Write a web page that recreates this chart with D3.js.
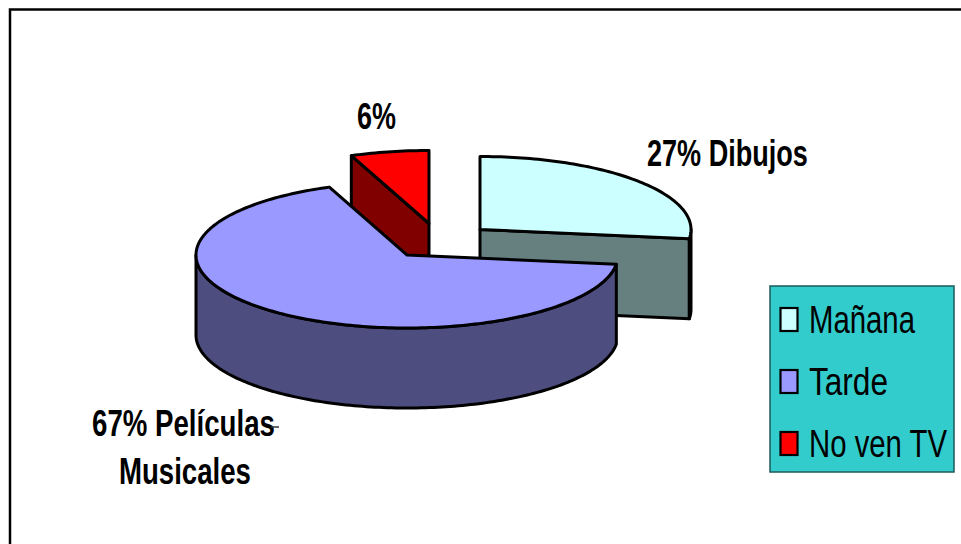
<!DOCTYPE html>
<html lang="es">
<head>
<meta charset="utf-8">
<title>Preferencias TV</title>
<script src="https://cdnjs.cloudflare.com/ajax/libs/d3/7.8.5/d3.min.js"></script>
<style>
  html, body { margin: 0; padding: 0; background: #fff; overflow: hidden; }
  svg { display: block; }
  text { font-family: "Liberation Sans", Arial, sans-serif; fill: #000; }
  .lbl { font-weight: bold; font-size: 37px; }
  .leg { font-size: 38px; }
</style>
</head>
<body>
<svg id="chart" width="961" height="544"></svg>
<script>
var categories = ['Mañana', 'Tarde', 'No ven TV'];
var values = [27, 67, 6];
var colors = ['#CCFFFF', '#9999FF', '#FF0000'];
var wallColors = ['#668080', '#4D4D80', '#800000'];

var rx = 211, ry = 73, depth = 80;
// apex of each slice once pulled out of the pie
var apex = [[480, 229.5], [407, 255], [429, 223.5]];

var svg = d3.select('#chart');

// frame
svg.append('path')
    .attr('d', 'M10,544V9.5H961')
    .attr('fill', 'none')
    .attr('stroke', '#000')
    .attr('stroke-width', 2.5);

var arcs = d3.pie().sort(null)(values);
var line = d3.line();

function rim(i, a, dy) {
    return [apex[i][0] + rx * Math.sin(a), apex[i][1] - ry * Math.cos(a) + (dy || 0)];
}

function rimPoints(i, a0, a1, dy) {
    var n = Math.max(2, Math.ceil(Math.abs(a1 - a0) / 0.02));
    return d3.range(n + 1).map(function(k) {
        return rim(i, a0 + (a1 - a0) * k / n, dy);
    });
}

function drawPath(pts, fill) {
    svg.append('path')
        .attr('d', line(pts) + 'Z')
        .attr('fill', fill)
        .attr('stroke', '#000')
        .attr('stroke-width', 3)
        .attr('stroke-linejoin', 'round');
}

// squeeze a text sideways so it fills the width seen in the chart
function fitText(sel, x, y, w) {
    var natural = sel.node().getComputedTextLength();
    sel.attr('transform', 'translate(' + x + ',' + y + ') scale(' + (w / natural) + ',1)');
}

// back to front: Mañana, No ven TV, Tarde
[0, 2, 1].forEach(function(i) {
    var d = arcs[i];
    var s = d.startAngle, e = d.endAngle;
    var c = apex[i];
    if (i == 0) {
        // cut face, then the short bit of outer wall
        drawPath([c, rim(i, e), rim(i, e, depth), [c[0], c[1] + depth]], wallColors[i]);
        drawPath(rimPoints(i, Math.PI / 2, e).concat(rimPoints(i, e, Math.PI / 2, depth)), wallColors[i]);
    }
    if (i == 2) {
        drawPath([c, rim(i, s), rim(i, s, depth), [c[0], c[1] + depth]], wallColors[i]);
    }
    if (i == 1) {
        // outer wall, only the front half of the rim shows
        var wallEnd = 1.5 * Math.PI;
        drawPath(rimPoints(i, s, wallEnd).concat(rimPoints(i, wallEnd, s, depth)), wallColors[i]);
    }
    drawPath([c].concat(rimPoints(i, s, e)), colors[i]);
});

// data labels
var labels = [
    {t: '6%', x: 357, y: 129, w: 39},
    {t: '27% Dibujos', x: 647, y: 166, w: 161},
    {t: '67% Películas', x: 92, y: 436, w: 183},
    {t: 'Musicales', x: 119, y: 484, w: 132}
];
labels.forEach(function(d) {
    var t = svg.append('text').attr('class', 'lbl').text(d.t);
    fitText(t, d.x, d.y, d.w);
});

// little leader line next to Películas
svg.append('line')
    .attr('x1', 271).attr('x2', 279)
    .attr('y1', 427).attr('y2', 427)
    .attr('stroke', '#333').attr('stroke-width', 1.5);

// legend
var legendWidths = [106, 79, 138];
var legend = svg.append('g');
legend.append('rect')
    .attr('x', 770).attr('y', 286)
    .attr('width', 184).attr('height', 186)
    .attr('fill', '#33CCCC')
    .attr('stroke', '#1d5a5a')
    .attr('stroke-width', 1.5);

var rowY = d3.scalePoint().domain(categories).range([320, 444]);

categories.forEach(function(name, i) {
    legend.append('rect')
        .attr('x', 780.5).attr('y', rowY(name) - 12)
        .attr('width', 17).attr('height', 23)
        .attr('fill', colors[i])
        .attr('stroke', '#000')
        .attr('stroke-width', 2.2);
    var t = legend.append('text').attr('class', 'leg').text(name);
    fitText(t, 809, rowY(name) + 12.5, legendWidths[i]);
});
</script>
</body>
</html>
